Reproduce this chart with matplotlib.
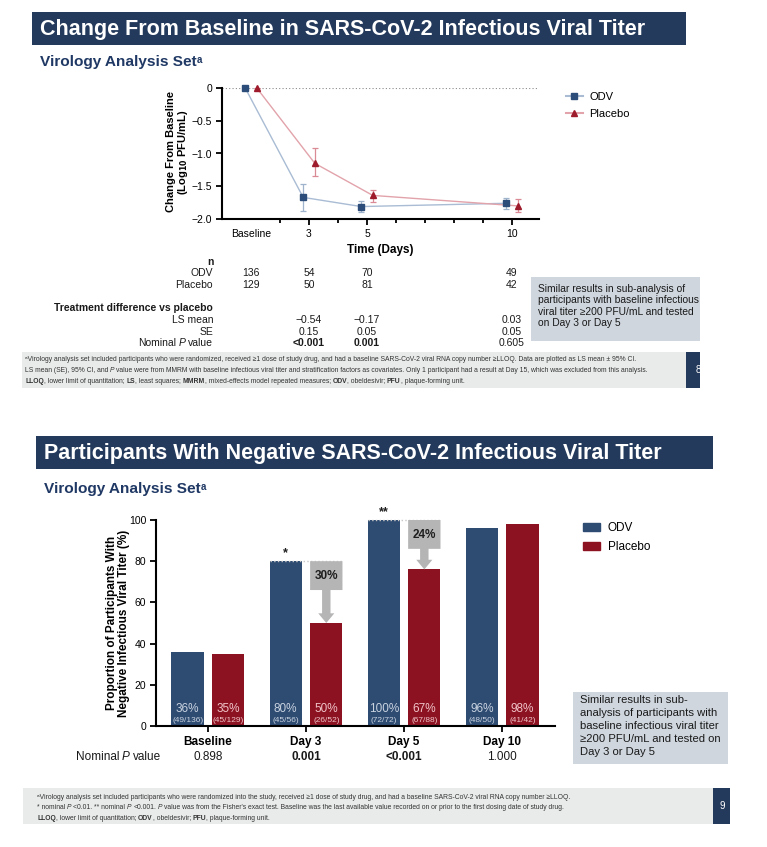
import numpy as np
import matplotlib
matplotlib.use("Agg")
import matplotlib.pyplot as plt
import matplotlib.transforms as mtransforms
from matplotlib.patches import Rectangle, Polygon, Patch
from matplotlib.lines import Line2D

W, H = 767, 847
NARROW = ['Liberation Sans Narrow', 'Liberation Sans', 'DejaVu Sans']
plt.rcParams['font.family'] = ['Liberation Sans', 'DejaVu Sans']

NAVY = '#243a5c'
ODV_C = '#2e4b72'
PBO_C = '#8c1222'

# --- top chart: LS mean change from baseline (log10 PFU/mL) ---
days = [1, 3, 5, 10]
day_labels = ['Baseline', '3', '5', '10']
odv_mean = [0, -1.67, -1.81, -1.76]
odv_lo = [0, -1.88, -1.90, -1.84]
odv_hi = [0, -1.47, -1.73, -1.68]
pbo_mean = [0, -1.15, -1.64, -1.80]
pbo_lo = [0, -1.34, -1.74, -1.89]
pbo_hi = [0, -0.91, -1.55, -1.70]
n_odv = ['136', '54', '70', '49']
n_pbo = ['129', '50', '81', '42']
ls_mean = ['', '\u22120.54', '\u22120.17', '0.03']
ls_se = ['', '0.15', '0.05', '0.05']
ls_p = ['', '<0.001', '0.001', '0.605']
ls_p_bold = [False, True, True, False]

# --- bottom chart: % with negative infectious viral titer ---
visits = ['Baseline', 'Day 3', 'Day 5', 'Day 10']
odv_pct = [36, 80, 100, 96]
pbo_pct = [35, 50, 76, 98]
odv_txt = ['36%', '80%', '100%', '96%']
pbo_txt = ['35%', '50%', '67%', '98%']
odv_frac = ['(49/136)', '(45/56)', '(72/72)', '(48/50)']
pbo_frac = ['(45/129)', '(26/52)', '(67/88)', '(41/42)']
diff_idx = [1, 2]
diff_txt = ['30%', '24%']
star_txt = ['*', '**']
p_bar = ['0.898', '0.001', '<0.001', '1.000']
p_bar_bold = [False, True, True, False]

fig = plt.figure(figsize=(W / 100, H / 100), dpi=100)
rend = fig.canvas.get_renderer()


def box(x0, y0, x1, y1, color):
    r = Rectangle((x0 / W, 1 - y1 / H), (x1 - x0) / W, (y1 - y0) / H,
                  transform=fig.transFigure, facecolor=color, edgecolor='none', zorder=0)
    fig.add_artist(r)
    return r


def txt(x, y, s, **kw):
    kw.setdefault('va', 'center')
    return fig.text(x / W, 1 - y / H, s, **kw)


def runs(x, y, parts, size, align='left', family=NARROW, color='#333333'):
    # draw text pieces with mixed bold / italic on one line
    items = []
    for s, st in parts:
        t = fig.text(0, 1 - y / H, s.rstrip(' '), fontsize=size, family=family, color=color,
                     va='center', ha='left',
                     fontweight='bold' if 'b' in st else 'normal',
                     fontstyle='italic' if 'i' in st else 'normal')
        w = t.get_window_extent(rend).width
        w += (len(s) - len(s.rstrip(' '))) * 0.25 * size * 100 / 72
        items.append((t, w))
    total = sum(w for _, w in items)
    xp = x - total if align == 'right' else x
    for t, w in items:
        t.set_x(xp / W)
        xp += w


def heading(y0, y1, x0, x1, title, sub_y):
    box(x0, y0, x1, y1, NAVY)
    txt(x0 + 8, (y0 + y1) / 2 + 1, title, color='white', fontsize=15.5,
        fontweight='bold', family=NARROW)
    t = txt(x0 + 8, sub_y, 'Virology Analysis Set', color='#1f3864', fontsize=11.1,
            fontweight='bold', family=NARROW)
    bb = t.get_window_extent(rend)
    fig.text(bb.x1 / W + 0.5 / W, bb.y1 / H, 'a', color='#1f3864', fontsize=7,
             fontweight='bold', family=NARROW, va='top')


# ================= TOP PANEL =================
heading(12, 45, 32, 686, 'Change From Baseline in SARS-CoV-2 Infectious Viral Titer', 62)

ax1 = fig.add_axes([222 / W, 1 - 219 / H, (539 - 222) / W, (219 - 88) / H])
ax1.plot([0, 10.93], [0, 0], color='#8a8a8a', ls=(0, (1, 2)), lw=0.8, zorder=0)

xo = np.array(days) - 0.2
xp = np.array(days) + 0.2
m1, l1, h1 = map(np.array, (odv_mean, odv_lo, odv_hi))
m2, l2, h2 = map(np.array, (pbo_mean, pbo_lo, pbo_hi))
ax1.plot(xo, m1, color='#a9bcd4', lw=1, zorder=2, clip_on=False)
ax1.plot(xp, m2, color='#e2a3ab', lw=1, zorder=2, clip_on=False)
ax1.errorbar(xo, m1, yerr=[m1 - l1, h1 - m1], fmt='none', ecolor='#9fb3cc',
             elinewidth=0.9, capsize=2.5, capthick=0.9, zorder=3)
ax1.errorbar(xp, m2, yerr=[m2 - l2, h2 - m2], fmt='none', ecolor='#d98a95',
             elinewidth=0.9, capsize=2.5, capthick=0.9, zorder=3)
ax1.plot(xo, m1, 's', color='#2c4d7a', ms=5, zorder=4, clip_on=False)
ax1.plot(xp, m2, '^', color='#9e1b2c', ms=5, zorder=4, clip_on=False)

ax1.set_xlim(0, 10.93)
ax1.set_ylim(-2, 0)
ax1.set_xticks(days, day_labels)
ax1.set_xticks([2, 4, 6, 7, 8, 9], minor=True)
ax1.xaxis.get_major_ticks()[0].tick1line.set_visible(False)
ax1.set_yticks([0, -0.5, -1, -1.5, -2], ['0', '\u22120.5', '\u22121.0', '\u22121.5', '\u22122.0'])
ax1.tick_params(which='both', direction='out', width=1.3, length=4, labelsize=7.5, pad=3)
ax1.tick_params(which='minor', length=3)
for side in ['top', 'right']:
    ax1.spines[side].set_visible(False)
for side in ['left', 'bottom']:
    ax1.spines[side].set_linewidth(1.5)
ax1.patch.set_alpha(0)

txt(178, 152, 'Change From Baseline\n(Log$_{\\mathbf{10}}$ PFU/mL)', rotation=90, ha='center',
    fontsize=8, fontweight='bold', linespacing=1.1)
txt(380, 250, 'Time (Days)', ha='center', fontsize=8.5, fontweight='bold', family=NARROW)

fig.legend(handles=[Line2D([], [], color='#a9bcd4', marker='s', mfc='#2c4d7a', mec='#2c4d7a', ms=5),
                    Line2D([], [], color='#e2a3ab', marker='^', mfc='#9e1b2c', mec='#9e1b2c', ms=5)],
           labels=['ODV', 'Placebo'], loc='upper left', bbox_to_anchor=(566 / W, 1 - 92 / H),
           frameon=False, fontsize=8, handlelength=1.5, handletextpad=0.6,
           labelspacing=0.6, borderpad=0, borderaxespad=0)

# table under the line chart
bt = mtransforms.blended_transform_factory(ax1.transData, fig.transFigure)
tkw = dict(fontsize=7.5, family=NARROW, va='center', color='#1a1a1a')
txt(214, 262, 'n', ha='right', fontweight='bold', **tkw)
txt(213, 273, 'ODV', ha='right', **tkw)
txt(213, 285, 'Placebo', ha='right', **tkw)
txt(213, 308, 'Treatment difference vs placebo', ha='right', fontweight='bold', **tkw)
txt(213, 320, 'LS mean', ha='right', **tkw)
txt(213, 332, 'SE', ha='right', **tkw)
runs(213, 343, [('Nominal ', ''), ('P ', 'i'), ('value', '')], 7.5, align='right', color='#1a1a1a')
for d, a, b, c, s, p, pb in zip(days, n_odv, n_pbo, ls_mean, ls_se, ls_p, ls_p_bold):
    fig.text(d, 1 - 273 / H, a, transform=bt, ha='center', **tkw)
    fig.text(d, 1 - 285 / H, b, transform=bt, ha='center', **tkw)
    fig.text(d, 1 - 320 / H, c, transform=bt, ha='center', **tkw)
    fig.text(d, 1 - 332 / H, s, transform=bt, ha='center', **tkw)
    fig.text(d, 1 - 343 / H, p, transform=bt, ha='center',
             fontweight='bold' if pb else 'normal', **tkw)

box(531, 277, 700, 341, '#cfd6de')
txt(538, 284, 'Similar results in sub-analysis of\nparticipants with baseline infectious\n'
    'viral titer \u2265200 PFU/mL and tested\non Day 3 or Day 5',
    va='top', fontsize=7.4, linespacing=1.18, color='#1a1a1a')

box(22, 352, 686, 388, '#e9eaea')
nb = box(686, 352, 700, 388, NAVY)
t8 = txt(696, 370, '8', color='white', fontsize=7)
t8.set_clip_path(nb)
runs(25, 359, [('\u1d43Virology analysis set included participants who were randomized, received \u22651 dose of '
                'study drug, and had a baseline SARS-CoV-2 viral RNA copy number \u2265LLOQ. Data are plotted '
                'as LS mean \u00b1 95% CI.', '')], 4.9)
runs(25, 370, [('LS mean (SE), 95% CI, and ', ''), ('P ', 'i'),
               ('value were from MMRM with baseline infectious viral titer and stratification factors as '
                'covariates. Only 1 participant had a result at Day 15, which was excluded from this analysis.', '')],
     4.9)
runs(25, 381, [('LLOQ', 'b'), (', lower limit of quantitation; ', ''), ('LS', 'b'), (', least squares; ', ''),
               ('MMRM', 'b'), (', mixed-effects model repeated measures; ', ''), ('ODV', 'b'),
               (', obeldesivir; ', ''), ('PFU', 'b'), (', plaque-forming unit.', '')], 4.9)

# ================= BOTTOM PANEL =================
heading(436, 469, 36, 713, 'Participants With Negative SARS-CoV-2 Infectious Viral Titer', 489)

ax2 = fig.add_axes([156 / W, 1 - 726 / H, (555 - 156) / W, (726 - 520) / H])
x = np.arange(len(visits))
off, bw = 0.207, 0.33
ax2.bar(x - off, odv_pct, bw, color=ODV_C, zorder=2)
ax2.bar(x + off, pbo_pct, bw, color=PBO_C, zorder=2)
for i in x:
    ax2.text(i - off, 8.4, odv_txt[i], ha='center', va='center', fontsize=8.5, color='#c9d3e0', zorder=5)
    ax2.text(i - off, 2.9, odv_frac[i], ha='center', va='center', fontsize=6, color='#c9d3e0', zorder=5)
    ax2.text(i + off, 8.4, pbo_txt[i], ha='center', va='center', fontsize=8.5, color='#f0c4c8', zorder=5)
    ax2.text(i + off, 2.9, pbo_frac[i], ha='center', va='center', fontsize=6, color='#f0c4c8', zorder=5)

for i, d, s in zip(diff_idx, diff_txt, star_txt):
    top, bot = odv_pct[i], pbo_pct[i]
    xl, xr, xc = i + off - bw / 2, i + off + bw / 2, i + off
    bb_, ht = top - 14, bot + 4.7
    sh, hh = 0.043, 0.082
    ax2.plot([i - off - bw / 2, xr], [top, top], color='#c8c8c8', ls=':', lw=1, zorder=3, clip_on=False)
    ax2.add_patch(Polygon([(xl, top), (xr, top), (xr, bb_), (xc + sh, bb_), (xc + sh, ht), (xc + hh, ht),
                           (xc, bot), (xc - hh, ht), (xc - sh, ht), (xc - sh, bb_), (xl, bb_)],
                          closed=True, facecolor='#b5b5b5', edgecolor='none', zorder=4, clip_on=False))
    ax2.text(xc, top - 7.3, d, ha='center', va='center', fontsize=8.5, fontweight='bold',
             color='#1e1e1e', zorder=5)
    ax2.text(i - off, top + 0.8, s, ha='center', va='bottom', fontsize=9, fontweight='bold',
             color='#1e1e1e', clip_on=False)

ax2.set_xlim(-0.53, 3.54)
ax2.set_ylim(0, 100)
ax2.set_xticks(x, visits, fontweight='bold', fontsize=8.5)
ax2.set_yticks([0, 20, 40, 60, 80, 100])
ax2.tick_params(direction='out', width=1.3, length=4, labelsize=7.5, pad=3)
ax2.tick_params(axis='x', labelsize=8.5)
for side in ['top', 'right']:
    ax2.spines[side].set_visible(False)
for side in ['left', 'bottom']:
    ax2.spines[side].set_linewidth(1.5)
ax2.patch.set_alpha(0)

txt(118, 623, 'Proportion of Participants With\nNegative Infectious Viral Titer (%)', rotation=90,
    ha='center', fontsize=8.5, fontweight='bold', linespacing=1.05)

fig.legend(handles=[Patch(color=ODV_C), Patch(color=PBO_C)], labels=['ODV', 'Placebo'],
           loc='upper left', bbox_to_anchor=(583 / W, 1 - 522 / H), frameon=False, fontsize=8.5,
           handlelength=1.4, handleheight=0.6, handletextpad=0.7, labelspacing=0.6,
           borderpad=0, borderaxespad=0)

bt2 = mtransforms.blended_transform_factory(ax2.transData, fig.transFigure)
runs(161, 757, [('Nominal ', ''), ('P ', 'i'), ('value', '')], 8.5, align='right',
     family=['Liberation Sans', 'DejaVu Sans'], color='#1a1a1a')
for i, (p, pb) in enumerate(zip(p_bar, p_bar_bold)):
    fig.text(i, 1 - 757 / H, p, transform=bt2, ha='center', va='center', fontsize=8.5,
             fontweight='bold' if pb else 'normal', color='#1a1a1a')

box(573, 692, 728, 764, '#cfd6de')
txt(580, 695, 'Similar results in sub-\nanalysis of participants with\nbaseline infectious viral titer\n'
    '\u2265200 PFU/mL and tested on\nDay 3 or Day 5', va='top', fontsize=8.1, linespacing=1.36,
    color='#1a1a1a')

box(23, 788, 713, 824, '#e9eaea')
box(713, 788, 730, 824, NAVY)
txt(722, 806, '9', ha='center', color='white', fontsize=7)
runs(37, 797, [('\u1d43Virology analysis set included participants who were randomized into the study, received '
                '\u22651 dose of study drug, and had a baseline SARS-CoV-2 viral RNA copy number \u2265LLOQ.', '')],
     4.9)
runs(37, 807, [('* nominal ', ''), ('P ', 'i'), ('<0.01. ** nominal ', ''), ('P ', 'i'), ('<0.001. ', ''),
               ('P ', 'i'), ("value was from the Fisher's exact test. Baseline was the last available value "
                             "recorded on or prior to the first dosing date of study drug.", '')], 4.9)
runs(37, 818, [('LLOQ', 'b'), (', lower limit of quantitation; ', ''), ('ODV', 'b'), (', obeldesivir; ', ''),
               ('PFU', 'b'), (', plaque-forming unit.', '')], 4.9)

fig.savefig('out.png', dpi=100)
